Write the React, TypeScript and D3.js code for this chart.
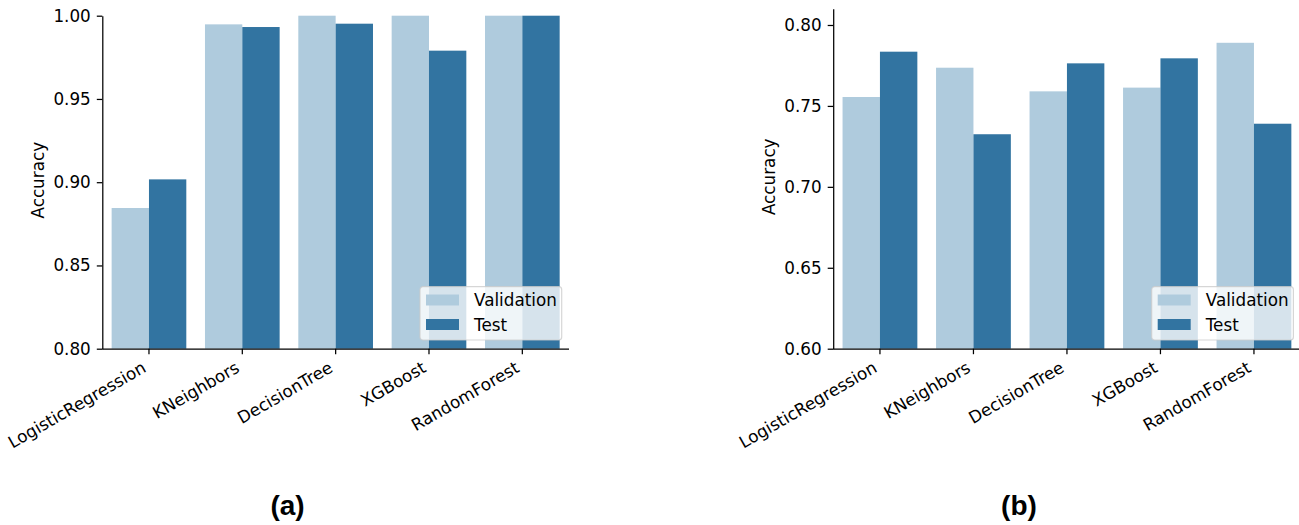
import React, { useEffect, useRef } from 'react';
import * as d3 from 'd3';

const models = ['LogisticRegression', 'KNeighbors', 'DecisionTree', 'XGBoost', 'RandomForest'];
const seriesNames = ['Validation', 'Test'];

// panel (a)
const validationA = [0.8845, 0.9948, 1.0, 1.0, 1.0];
const testA = [0.9017, 0.9932, 0.9952, 0.979, 1.0];
const ticksA = [0.8, 0.85, 0.9, 0.95, 1.0];

// panel (b)
const validationB = [0.7555, 0.7736, 0.759, 0.7613, 0.789];
const testB = [0.7835, 0.7325, 0.7763, 0.7794, 0.739];
const ticksB = [0.6, 0.65, 0.7, 0.75, 0.8];

const colors = ['#afcbdd', '#3274a1'];
const FONT = 'DejaVu Sans';
const FS = 16.8;

type PanelProps = {
  x0: number; x1: number; yTop: number; yBottom: number;
  domain: [number, number]; ticks: number[];
  series: number[][]; tag: string; tagX: number;
};

const Panel = ({ x0, x1, yTop, yBottom, domain, ticks, series, tag, tagX }: PanelProps) => {
  const yAxisRef = useRef<SVGGElement>(null);
  const xAxisRef = useRef<SVGGElement>(null);

  const x = d3.scaleBand().domain(models).range([x0, x1]).paddingInner(0.2).paddingOuter(0.1);
  const xs = d3.scaleBand().domain(seriesNames).range([0, x.bandwidth()]);
  const y = d3.scaleLinear().domain(domain).range([yBottom, yTop]);

  useEffect(() => {
    const ya = d3.select(yAxisRef.current!);
    ya.selectAll('*').remove();
    ya.call(d3.axisLeft(y).tickValues(ticks).tickFormat(d3.format('.2f')).tickSize(5.5).tickPadding(6).tickSizeOuter(0));
    ya.selectAll('text').attr('font-family', FONT).attr('font-size', FS).attr('fill', '#000');
    ya.selectAll('line').attr('stroke', '#000').attr('stroke-width', 1.25);
    ya.select('.domain').attr('stroke', '#000').attr('stroke-width', 1.25);

    const xa = d3.select(xAxisRef.current!);
    xa.selectAll('*').remove();
    xa.call(d3.axisBottom(x).tickSize(5.5).tickSizeOuter(0));
    // stretch bottom spine over full x range
    xa.select('.domain').attr('d', `M${x0},0.5H${x1}`).attr('stroke', '#000').attr('stroke-width', 1.25);
    xa.selectAll('line').attr('stroke', '#000').attr('stroke-width', 1.25);
    xa.selectAll('text')
      .attr('font-family', FONT).attr('font-size', FS).attr('fill', '#000')
      .attr('x', 0).attr('y', 0).attr('dy', 0)
      .attr('text-anchor', 'end')
      .attr('transform', 'translate(-1.75,22.3) rotate(-30)');
  });

  const legendW = 141.7;
  const legendH = 53.3;
  const lx = x1 - 7.3 - legendW;
  const ly = yBottom - 8.7 - legendH;

  return (
    <g>
      {models.map((m, i) => (
        <g key={m} transform={`translate(${x(m)},0)`}>
          {seriesNames.map((s, j) => (
            <rect key={s} x={xs(s)} y={y(series[j][i])} width={xs.bandwidth()}
              height={yBottom - y(series[j][i])} fill={colors[j]} />
          ))}
        </g>
      ))}
      <g ref={yAxisRef} transform={`translate(${x0},0)`} />
      <g ref={xAxisRef} transform={`translate(0,${yBottom})`} />
      <text transform={`translate(${x0 - 58},${(yTop + yBottom) / 2 - 2}) rotate(-90)`}
        textAnchor="middle" fontFamily={FONT} fontSize={FS} fill="#000">Accuracy</text>
      <g transform={`translate(${lx},${ly})`}>
        <rect x={0} y={0} width={legendW} height={legendH} rx={3}
          fill="#fff" fillOpacity={0.8} stroke="#cccccc" strokeOpacity={0.8} strokeWidth={1.2} />
        {seriesNames.map((s, j) => (
          <g key={s} transform={`translate(0,${13.3 + j * 24.5})`}>
            <rect x={6} y={-5.5} width={33} height={11} fill={colors[j]} />
            <text x={54} y={0} dy="0.36em" fontFamily={FONT} fontSize={FS} fill="#000">{s}</text>
          </g>
        ))}
      </g>
      <text x={tagX} y={515} textAnchor="middle" fontFamily="Liberation Sans" fontWeight="bold"
        fontSize={28} fill="#000">{tag}</text>
    </g>
  );
};

export default function App() {
  return (
    <svg width={1299} height={525} style={{ position: 'absolute', left: 0, top: 0, background: '#fff' }}>
      <Panel x0={102.3} x1={569} yTop={15.7} yBottom={348.7} domain={[0.8, 1.0]} ticks={ticksA}
        series={[validationA, testA]} tag="(a)" tagX={287.5} />
      <Panel x0={833.2} x1={1300.7} yTop={8.8} yBottom={348.7} domain={[0.6, 0.81]} ticks={ticksB}
        series={[validationB, testB]} tag="(b)" tagX={1019} />
    </svg>
  );
}
